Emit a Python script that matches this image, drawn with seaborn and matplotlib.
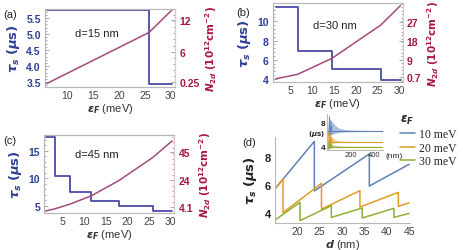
import matplotlib
matplotlib.use("Agg")
import matplotlib.pyplot as plt
from matplotlib.ticker import AutoMinorLocator
import seaborn as sns

# ---- panel (a): d = 15 nm ----
ef_a = [6.1, 25.8, 30.3]
tau_a = [5.75, 3.45, 3.45]
n2d_ef_a = [6.1, 25.8, 30.3]
n2d_a = [0.0, 9.6, 13.9]

# ---- panel (b): d = 30 nm ----
ef_b = [1.6, 6.6, 14.55, 25.75, 30.3]
tau_b = [11.52, 6.95, 5.04, 3.95, 3.95]
n2d_ef_b = [1.6, 6.6, 14.55, 25.75, 30.3]
n2d_b = [0.0, 2.1, 9.7, 25.4, 34.6]

# ---- panel (c): d = 45 nm ----
ef_c = [1.24, 3.2, 6.8, 11.7, 18.0, 25.9, 30.3]
tau_c = [17.4, 10.47, 7.55, 5.85, 4.9, 4.1, 4.1]
n2d_ef_c = [1.24, 3.2, 6.8, 11.7, 18.0, 25.9, 30.3]
n2d_c = [1.5, 2.9, 6.5, 12.6, 23.7, 40.9, 53.0]

# ---- panel (d): tau_s vs d for three Fermi energies ----
d_10 = [15, 23.8, 23.8, 36.1, 36.1, 45]
tau_10 = [5.75, 9.14, 5.6, 8.24, 5.95, 7.5]
d_20 = [15, 16.8, 16.8, 25.4, 25.4, 34.0, 34.0, 42.6, 42.6, 45]
tau_20 = [5.75, 6.45, 4.05, 6.14, 4.3, 5.62, 4.45, 5.5, 4.5, 4.76]
d_30 = [15, 20.6, 20.6, 27.6, 27.6, 34.5, 34.5, 41.6, 41.6, 45]
tau_30 = [3.52, 4.79, 3.48, 4.55, 3.71, 4.38, 3.67, 4.36, 3.71, 4.0]
ef_labels = ["10 meV", "20 meV", "30 meV"]

# inset: envelope of the fast oscillations up to large d
d_env = [15, 30, 45, 70, 100, 150, 250, 470]
up_10 = [9.15, 8.6, 8.2, 7.6, 7.1, 6.85, 6.72, 6.68]
lo_10 = [5.6, 5.9, 6.0, 6.2, 6.35, 6.45, 6.5, 6.52]
mid_10 = [6.6, 6.6, 6.6, 6.6, 6.6, 6.6, 6.6, 6.6]
up_20 = [6.45, 5.9, 5.5, 5.15, 4.95, 4.85, 4.8, 4.78]
lo_20 = [4.0, 4.3, 4.5, 4.6, 4.65, 4.68, 4.7, 4.7]
mid_20 = [4.74, 4.74, 4.74, 4.74, 4.74, 4.74, 4.74, 4.74]
up_30 = [4.8, 4.5, 4.35, 4.2, 4.1, 4.03, 4.0, 3.98]
lo_30 = [3.5, 3.7, 3.72, 3.8, 3.85, 3.88, 3.9, 3.9]
mid_30 = [3.94, 3.94, 3.94, 3.94, 3.94, 3.94, 3.94, 3.94]

sns.set_theme(style="white")
plt.rcParams["font.family"] = ["Liberation Sans", "DejaVu Sans"]
plt.rcParams["mathtext.fontset"] = "custom"
plt.rcParams["mathtext.it"] = "DejaVu Sans:bold:italic"
plt.rcParams["mathtext.rm"] = "DejaVu Sans:bold"
plt.rcParams["mathtext.bf"] = "DejaVu Sans:bold"

TAU = "#4b4ba6"
N2D = "#a44a7c"
TAU_TXT = "#2e3f96"
N2D_TXT = "#a8173f"
FRAME = "#b8b8b8"
PAL = ["#5e81b5", "#e19c24", "#8fb032"]

W, H = 463, 251
fig = plt.figure(figsize=(W / 100, H / 100), dpi=100)


def rect(left, top, right, bottom):
    return [left / W, 1 - bottom / H, (right - left) / W, (bottom - top) / H]


def frame(ax, full=True):
    for s in ax.spines.values():
        s.set_color(FRAME)
        s.set_linewidth(0.8)
    if not full:
        ax.spines["top"].set_visible(False)
        ax.spines["right"].set_visible(False)
    ax.xaxis.set_minor_locator(AutoMinorLocator(5))
    ax.yaxis.set_minor_locator(AutoMinorLocator(5))
    ax.tick_params(which="both", direction="in", color="#999999", width=0.6)
    ax.tick_params(which="major", length=3)
    ax.tick_params(which="minor", length=1.5)


def step_panel(box, ef, tau, nef, n, xlim, ylim, ylim2, yticks, ytl,
               y2ticks, y2tl, note, note_xy, letter, letter_xy):
    ax = fig.add_axes(rect(*box))
    sns.lineplot(x=ef, y=tau, ax=ax, color=TAU, lw=1.3, drawstyle="steps-post",
                 estimator=None, sort=False)
    ax.set_xlim(*xlim)
    ax.set_ylim(*ylim)
    frame(ax)
    ax.set_xticks([5, 10, 15, 20, 25, 30] if xlim[0] < 5 else [10, 15, 20, 25, 30])
    ax.tick_params(axis="x", labelsize=7.5, labelcolor="#444444", pad=2)
    ax.set_yticks(yticks, ytl, fontweight="bold", fontsize=7.5, color=TAU_TXT)
    ax.tick_params(axis="y", pad=3)
    ax.set_xlabel(r"$\varepsilon_F$ (meV)", fontsize=8, color="#333333", labelpad=1)
    ax.set_ylabel(r"$\tau_s$ $(\mu\mathrm{s})$", fontsize=9.5, color=TAU_TXT, labelpad=3)

    ax2 = ax.twinx()
    sns.lineplot(x=nef, y=n, ax=ax2, color=N2D, lw=1.1, estimator=None, sort=False)
    ax2.set_ylim(*ylim2)
    frame(ax2)
    ax2.spines["right"].set_color("#e2c2d2")
    ax2.set_yticks(y2ticks, y2tl, fontweight="bold", fontsize=7.5, color=N2D_TXT)
    ax2.tick_params(axis="y", pad=3)
    ax2.set_ylabel(r"$N_{2d}$ $(10^{12}\mathrm{cm}^{-2})$", fontsize=7.5,
                   color=N2D_TXT, labelpad=3)
    ax2.set_xlim(*xlim)
    ax.text(note_xy[0], note_xy[1], note, fontsize=8, color="#222222",
            transform=ax.transData)
    fig.text(letter_xy[0] / W, 1 - letter_xy[1] / H, letter, fontsize=8,
             color="#222222", va="center")
    return ax


step_panel((45, 10, 175, 88), ef_a, tau_a, n2d_ef_a, n2d_a,
           (5.8, 30.8), (3.35, 5.78), (-0.63, 14.0),
           [3.5, 4.0, 4.5, 5.0, 5.5], ["3.5", "4.0", "4.5", "5.0", "5.5"],
           [0.25, 6, 12], ["0.25", "6", "12"],
           "d=15 nm", (11.6, 4.93), "(a)", (3, 15))

step_panel((272.7, 4, 402.7, 83.3), ef_b, tau_b, n2d_ef_b, n2d_b,
           (0.86, 30.8), (3.66, 11.9), (-1.67, 35.8),
           [4, 6, 8, 10], ["4", "6", "8", "10"],
           [0.7, 9, 18, 27], ["0.7", "9", "18", "27"],
           "d=30 nm", (10.1, 9.3), "(b)", (236, 13))

step_panel((44.3, 136, 174.3, 214.3), ef_c, tau_c, n2d_ef_c, n2d_c,
           (0.85, 30.8), (3.62, 17.85), (-0.3, 57.3),
           [5, 10, 15], ["5", "10", "15"],
           [4.1, 24, 45], ["4.1", "24", "45"],
           "d=45 nm", (7.9, 13.9), "(c)", (3, 141))

# ---- panel (d) ----
axd = fig.add_axes(rect(275, 138, 410, 224.3))
for dd, tt, c, lab in zip([d_10, d_20, d_30], [tau_10, tau_20, tau_30], PAL, ef_labels):
    sns.lineplot(x=dd, y=tt, ax=axd, color=c, lw=1.1, estimator=None, sort=False,
                 label=lab, legend=False)
axd.set_xlim(15, 45.2)
axd.set_ylim(3.29, 9.45)
frame(axd, full=False)
axd.set_xticks([20, 25, 30, 35, 40, 45])
axd.tick_params(axis="x", labelsize=7.5, labelcolor="#444444", pad=2)
axd.set_yticks([4, 6, 8], ["4", "6", "8"], fontweight="bold", fontsize=8, color="#222222")
axd.tick_params(axis="y", pad=3)
axd.set_xlabel(r"$d$ (nm)", fontsize=8, color="#333333", labelpad=1)
axd.set_ylabel(r"$\tau_s$ $(\mu\mathrm{s})$", fontsize=9.5, color="#222222", labelpad=4)
fig.text(242 / W, 1 - 143 / H, "(d)", fontsize=8, color="#222222", va="center")

handles, labels = axd.get_legend_handles_labels()
fig.legend(handles, labels, title=r"$\varepsilon_F$", loc="upper left",
           bbox_to_anchor=(400 / W, 1 - 114 / H), frameon=False,
           prop={"family": "Liberation Serif", "size": 8.5}, title_fontsize=8.5,
           handlelength=1.3, handletextpad=0.3, labelspacing=0.15,
           borderpad=0, borderaxespad=0, alignment="left")

# ---- inset ----
axi = fig.add_axes(rect(326.7, 115, 383, 150.5))
for up, lo, mid, c in zip([up_10, up_20, up_30], [lo_10, lo_20, lo_30],
                          [mid_10, mid_20, mid_30], PAL):
    axi.fill_between(d_env, lo, up, color=c, alpha=0.5, lw=0)
    sns.lineplot(x=d_env, y=mid, ax=axi, color=c, lw=0.8, estimator=None, sort=False)
for dd, tt, c in zip([d_10, d_20, d_30], [tau_10, tau_20, tau_30], PAL):
    sns.lineplot(x=dd, y=tt, ax=axi, color=c, lw=0.5, estimator=None, sort=False)
axi.set_xlim(0, 470)
axi.set_ylim(3.45, 9.5)
frame(axi, full=False)
axi.set_xticks([200, 400], ["200", "400"], fontsize=5.5, color="#333333")
axi.set_yticks([4, 8], ["4", "8"], fontsize=6, fontweight="bold", color="#222222")
axi.tick_params(which="major", length=2, pad=1)
axi.tick_params(which="minor", length=1)
axi.set_xlabel("")
axi.set_ylabel("")
fig.text(325 / W, 1 - 134 / H, r"$(\mu\mathrm{s})$", fontsize=5, color="#222222",
         va="center", ha="right")
fig.text(385 / W, 1 - 156 / H, "(nm)", fontsize=6, color="#222222", va="center")

fig.savefig("out.png", dpi=100)
